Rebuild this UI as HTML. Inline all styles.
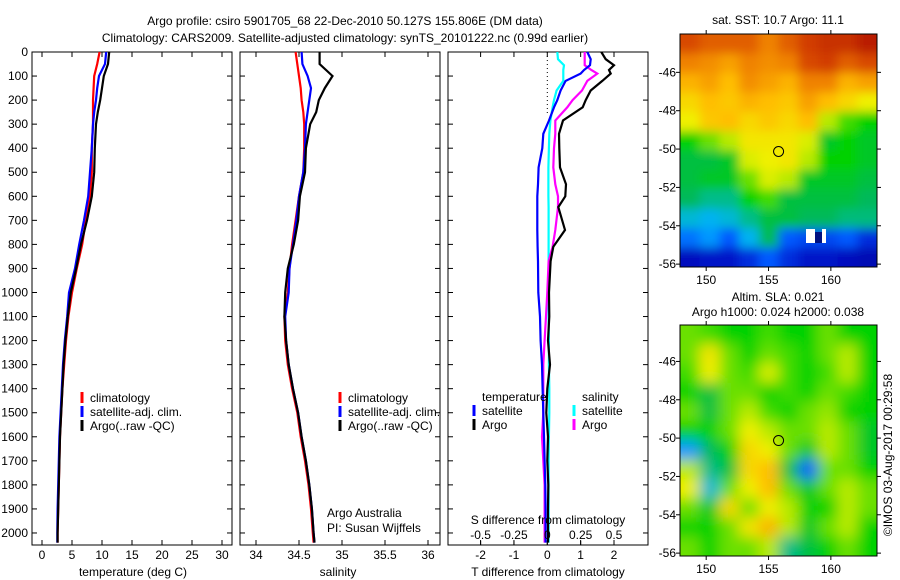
<!DOCTYPE html>
<html><head><meta charset="utf-8"><style>
html,body{margin:0;padding:0;background:#fff}
svg{display:block}
text{font-family:"Liberation Sans",sans-serif;font-size:12px;fill:#000}
</style></head><body>
<svg id="fig" width="900" height="580" viewBox="0 0 900 580" xmlns="http://www.w3.org/2000/svg">
<defs>
<filter id="blur1" x="-10%" y="-10%" width="120%" height="120%"><feGaussianBlur stdDeviation="5"/></filter>
<filter id="blur2" x="-10%" y="-10%" width="120%" height="120%"><feGaussianBlur stdDeviation="7"/></filter>
<clipPath id="clipMap1"><rect x="680" y="34" width="197" height="233"/></clipPath>
<clipPath id="clipMap2"><rect x="680" y="325" width="197" height="231"/></clipPath>
</defs>
<text x="345" y="25" text-anchor="middle">Argo profile: csiro 5901705_68 22-Dec-2010 50.127S 155.806E (DM data)</text>
<text x="345" y="42" text-anchor="middle">Climatology: CARS2009. Satellite-adjusted climatology: synTS_20101222.nc (0.99d earlier)</text>
<g id="g"></g>
</svg>
<script>
// ---------- profile data ----------
const depths = [0,50,100,150,200,250,300,400,500,600,700,800,900,1000,1100,1200,1300,1400,1500,1600,1700,1800,1900,2000,2040];
const tempArgo = [11.2,11.0,10.3,10.0,9.7,9.3,9.0,8.8,8.7,8.3,7.5,6.5,5.7,4.8,4.3,3.9,3.6,3.4,3.2,3.0,2.9,2.8,2.7,2.6,2.6];
const tempClim = [9.6,9.2,8.7,8.6,8.5,8.5,8.5,8.3,8.3,8.0,7.3,6.7,5.8,5.0,4.4,4.0,3.7,3.4,3.2,3.0,2.9,2.8,2.7,2.6,2.6];
const tempSat  = [10.7,10.5,9.5,9.2,9.0,8.7,8.5,8.3,8.0,7.7,7.0,6.2,5.5,4.5,4.2,3.8,3.5,3.3,3.1,2.9,2.8,2.7,2.6,2.55,2.55];
const salArgo = [34.74,34.74,34.89,34.80,34.73,34.70,34.63,34.58,34.57,34.51,34.49,34.44,34.37,34.34,34.33,34.35,34.38,34.43,34.49,34.53,34.58,34.62,34.65,34.67,34.68];
const salClim = [34.46,34.48,34.50,34.52,34.53,34.55,34.56,34.56,34.55,34.50,34.46,34.42,34.39,34.37,34.33,34.34,34.37,34.42,34.48,34.52,34.57,34.61,34.64,34.66,34.67];
const salSat  = [34.53,34.54,34.60,34.64,34.62,34.60,34.58,34.57,34.55,34.50,34.47,34.43,34.39,34.38,34.34,34.35,34.38,34.43,34.49,34.53,34.58,34.62,34.65,34.67,34.68];
const diffDepths = [0,30,55,75,90,120,160,200,230,285,340,400,480,550,600,645,740,810,870,1000,1100,1200,1300,1400,1500,1600,1700,1800,1900,2000,2040];
const dTArgo = [1.62,1.75,2.0,1.85,1.9,1.65,1.3,1.15,1.06,0.47,0.35,0.36,0.38,0.56,0.54,0.33,0.53,0.18,0.1,0.05,0.06,0.02,0.08,0.0,-0.03,0.02,0.0,0.03,0.02,0.02,0.02];
const dTSat  = [1.2,1.3,1.28,1.1,1.0,0.55,0.4,0.3,0.2,0.05,-0.12,-0.15,-0.26,-0.28,-0.3,-0.3,-0.3,-0.29,-0.28,-0.27,-0.22,-0.2,-0.16,-0.14,-0.12,-0.1,-0.08,-0.06,-0.05,-0.05,-0.05];
const dSArgo = [0.28,0.28,0.28,0.33,0.375,0.3,0.26,0.19,0.15,0.06,0.06,0.05,0.045,0.06,0.08,0.08,0.06,0.04,0.01,0.0,-0.01,-0.02,-0.03,-0.03,-0.03,-0.04,-0.03,-0.02,-0.02,-0.02,-0.02];
const dSSat  = [0.075,0.08,0.125,0.12,0.12,0.12,0.07,0.05,0.04,0.023,0.015,0.012,0.008,0.008,0.008,0.01,0.01,0.01,0.01,0.01,0.01,0.012,0.012,0.015,0.015,0.012,0.01,0.01,0.01,0.01,0.01];
const depthTicks = [0,100,200,300,400,500,600,700,800,900,1000,1100,1200,1300,1400,1500,1600,1700,1800,1900,2000];
const tempTicks = [0,5,10,15,20,25,30];
const salTicks = [34,34.5,35,35.5,36];
const salTickLabels = ["34","34.5","35","35.5","36"];
const dTTicks = [-2,-1,0,1,2];
const dSTicks = [-0.5,-0.25,0,0.25,0.5];
const dSTickLabels = ["-0.5","-0.25","0","0.25","0.5"];
// ---------- map data (colormap fraction 0..1), rows north->south ----------
const sstGrid = [
[.88,.85,.85,.85,.80,.85,.90,.92,.92,.95],
[.80,.78,.75,.80,.78,.80,.88,.90,.85,.88],
[.72,.75,.70,.78,.75,.72,.80,.80,.72,.75],
[.65,.70,.68,.72,.70,.68,.75,.70,.65,.60],
[.60,.68,.70,.65,.68,.65,.70,.55,.48,.45],
[.45,.50,.55,.62,.62,.62,.58,.42,.45,.42],
[.40,.40,.42,.58,.60,.62,.55,.45,.45,.42],
[.40,.42,.42,.50,.58,.55,.42,.42,.42,.40],
[.38,.35,.35,.45,.48,.40,.40,.40,.40,.38],
[.30,.28,.30,.35,.40,.40,.38,.38,.36,.36],
[.22,.25,.20,.28,.38,.20,.18,.18,.20,.15],
[.10,.12,.12,.15,.20,.15,.12,.12,.10,.08]];
const slaGrid = [
[.50,.48,.45,.45,.48,.45,.45,.50,.45,.45],
[.50,.62,.50,.45,.50,.48,.45,.50,.55,.45],
[.48,.60,.50,.48,.58,.48,.45,.48,.55,.45],
[.45,.40,.50,.50,.45,.48,.45,.50,.48,.45],
[.50,.40,.50,.55,.48,.45,.50,.52,.45,.45],
[.45,.45,.50,.60,.55,.50,.50,.55,.50,.42],
[.25,.38,.45,.65,.60,.50,.42,.55,.50,.42],
[.55,.35,.40,.65,.70,.40,.20,.50,.50,.45],
[.60,.30,.50,.60,.70,.50,.42,.50,.55,.50],
[.50,.42,.65,.50,.60,.55,.45,.45,.55,.50],
[.45,.45,.50,.62,.72,.55,.42,.50,.55,.45],
[.50,.45,.50,.50,.55,.35,.40,.45,.50,.45]];
const lonTicks = [150,155,160];
const latTicks = [-46,-48,-50,-52,-54,-56];
const argoLon = 155.806, argoLat = -50.127;

const NS='http://www.w3.org/2000/svg';
const G=document.getElementById('g');
function el(tag,attrs,parent){const e=document.createElementNS(NS,tag);for(const k in attrs)e.setAttribute(k,attrs[k]);(parent||G).appendChild(e);return e;}
function txt(x,y,s,anchor,parent){const t=el('text',{x:x,y:y,'text-anchor':anchor||'start'},parent);t.textContent=s;return t;}

const TOP=52, BOT=545;
const yD = d => TOP + d*(BOT-TOP)/2050;
function lin(d0,d1,r0,r1){return v=>r0+(v-d0)*(r1-r0)/(d1-d0);}
const xT = lin(0,30,42,222);
const xS = lin(34,36,256,428);
const xDT = lin(0,2,547.3,614);
const xDS = v => xDT(v*4);

function panel(x0,x1,name){
  const r=el('rect',{x:x0,y:TOP,width:x1-x0,height:BOT-TOP,fill:'#fff',stroke:'#000','stroke-width':1});
  
  
  depthTicks.forEach(d=>{
    el('line',{x1:x0,x2:x0+5,y1:yD(d),y2:yD(d),stroke:'#000'});
    el('line',{x1:x1-5,x2:x1,y1:yD(d),y2:yD(d),stroke:'#000'});
  });
}
function xticks(vals,labels,fx,x0,x1,withTop,labelY,name){
  vals.forEach((v,i)=>{
    const x=fx(v);
    el('line',{x1:x,x2:x,y1:BOT,y2:BOT-5,stroke:'#000'});
    if(withTop) el('line',{x1:x,x2:x,y1:TOP,y2:TOP+5,stroke:'#000'});
    const t=txt(x,labelY,labels[i],'middle');
    
    
  });
}
function profile(xs,ds,fx,color,name,w){
  const pts=xs.map((v,i)=>fx(v).toFixed(1)+','+yD(ds[i]).toFixed(1)).join(' ');
  const p=el('polyline',{points:pts,fill:'none',stroke:color,'stroke-width':w||2.2,'stroke-linejoin':'miter'});
  
  
}
function legend(x,y,color,label,name){
  el('line',{x1:x,x2:x,y1:y-10,y2:y+1,stroke:color,'stroke-width':3});
  const t=txt(x+8,y,label);
  
  
}

// Panel 1 temperature
panel(32,232,'temperature-panel');
depthTicks.forEach(d=>{const t=txt(28,yD(d)+4,String(d),'end');
  
  });
xticks(tempTicks,tempTicks.map(String),xT,32,232,true,559,'temperature-tick-label');
profile(tempClim,depths,xT,'#f00','temperature-climatology-line');
profile(tempSat,depths,xT,'#00f','temperature-satellite-line');
profile(tempArgo,depths,xT,'#000','temperature-argo-line');
legend(82,402,'#f00','climatology','legend-climatology');
legend(82,416,'#00f','satellite-adj. clim.','legend-satellite');
legend(82,430,'#000','Argo(..raw -QC)','legend-argo');
let t=txt(133,576,'temperature (deg C)','middle');



// Panel 2 salinity
panel(240,440,'salinity-panel');
xticks(salTicks,salTickLabels,xS,240,440,true,559,'salinity-tick-label');
profile(salClim,depths,xS,'#f00','salinity-climatology-line');
profile(salSat,depths,xS,'#00f','salinity-satellite-line');
profile(salArgo,depths,xS,'#000','salinity-argo-line');
legend(340,402,'#f00','climatology','legend-climatology-2');
legend(340,416,'#00f','satellite-adj. clim.','legend-satellite-2');
legend(340,430,'#000','Argo(..raw -QC)','legend-argo-2');
t=txt(327,517,'Argo Australia');


t=txt(327,532,'PI: Susan Wijffels');


t=txt(338,576,'salinity','middle');



// Panel 3 differences
panel(448,648,'difference-panel');
el('line',{x1:xDT(0),x2:xDT(0),y1:TOP,y2:116,stroke:'#000','stroke-dasharray':'1,3'});
xticks(dTTicks,dTTicks.map(String),xDT,448,648,true,559,'t-diff-tick-label');
dSTicks.forEach((v,i)=>{const x=xDS(v);
  el('line',{x1:x,x2:x,y1:BOT,y2:BOT-4,stroke:'#000'});});
profile(dSSat,diffDepths,xDS,'#0ff','salinity-diff-satellite-line');
profile(dSArgo,diffDepths,xDS,'#f0f','salinity-diff-argo-line');
profile(dTSat,diffDepths,xDT,'#00f','temperature-diff-satellite-line');
profile(dTArgo,diffDepths,xDT,'#000','temperature-diff-argo-line');
dSTicks.forEach((v,i)=>{const tt=txt(xDS(v),539,dSTickLabels[i],'middle');
  
  });
t=txt(548,524,'S difference from climatology','middle');


t=txt(482,401,'temperature');


t=txt(582,401,'salinity');


legend(474,415,'#00f','satellite','legend-t-satellite');
legend(474,429,'#000','Argo','legend-t-argo');
legend(574,415,'#0ff','satellite','legend-s-satellite');
legend(574,429,'#f0f','Argo','legend-s-argo');
t=txt(548,576,'T difference from climatology','middle');



// ---------- maps ----------
const cmapStops=[[0,0,0,140],[0.12,0,20,200],[0.2,0,90,255],[0.27,0,175,255],[0.33,0,190,170],[0.38,0,185,90],[0.45,0,210,0],[0.52,150,230,0],[0.6,240,240,0],[0.7,255,190,0],[0.8,240,130,0],[0.9,210,60,0],[1,160,0,0]];
function cmap(v){v=Math.max(0,Math.min(1,v));
  for(let i=1;i<cmapStops.length;i++){const a=cmapStops[i-1],b=cmapStops[i];
    if(v<=b[0]){const f=(v-a[0])/(b[0]-a[0]);
      return 'rgb('+[1,2,3].map(k=>Math.round(a[k]+f*(b[k]-a[k]))).join(',')+')';}}
  return 'rgb(160,0,0)';}
function drawMap(grid,x0,y0,w,h,latTop,latBot,clip,filt,name){
  const lonL=147.9, lonR=163.7;
  const fx=lin(lonL,lonR,x0,x0+w), fy=lin(latTop,latBot,y0,y0+h);
  const cg=el('g',{'clip-path':'url(#'+clip+')'});
  
  
  const bg=el('g',{filter:'url(#'+filt+')'},cg);
  const rows=grid.length, cols=grid[0].length;
  const cw=w/cols, ch=h/rows;
  for(let r=-1;r<=rows;r++)for(let c=-1;c<=cols;c++){
    const rr=Math.max(0,Math.min(rows-1,r)), cc=Math.max(0,Math.min(cols-1,c));
    const cell=el('rect',{x:x0+c*cw,y:y0+r*ch,width:cw+0.5,height:ch+0.5,fill:cmap(grid[rr][cc])},bg);
    
    
  }
  const fr=el('rect',{x:x0,y:y0,width:w,height:h,fill:'none',stroke:'#000'});
  
  
  lonTicks.forEach(l=>{const x=fx(l);
    el('line',{x1:x,x2:x,y1:y0+h,y2:y0+h+4,stroke:'#000'});
    el('line',{x1:x,x2:x,y1:y0,y2:y0-4,stroke:'#000'});
    const tt=txt(x,y0+h+17,String(l),'middle');
    
    });
  latTicks.forEach(l=>{const y=fy(l);
    el('line',{x1:x0,x2:x0-4,y1:y,y2:y,stroke:'#000'});
    el('line',{x1:x0+w,x2:x0+w+4,y1:y,y2:y,stroke:'#000'});
    const tt=txt(x0-4,y+4,String(l),'end');
    
    });
  const m=el('circle',{cx:fx(argoLon),cy:fy(argoLat),r:5,fill:'none',stroke:'#000','stroke-width':1});
  
  
  return {fx,fy};
}
drawMap(sstGrid,680,34,197,233,-44.0,-56.15,'clipMap1','blur1','sst-map');
el('rect',{x:806,y:229,width:9,height:14,fill:'#fff'});
el('rect',{x:822,y:229,width:4,height:14,fill:'#fff'});
el('rect',{x:815,y:232,width:7,height:11,fill:'#001080'});
drawMap(slaGrid,680,325,197,231,-44.1,-56.15,'clipMap2','blur2','sla-map');
t=txt(778,24,'sat. SST: 10.7 Argo: 11.1','middle');


t=txt(778,301,'Altim. SLA: 0.021','middle');


t=txt(778,316,'Argo h1000: 0.024 h2000: 0.038','middle');


t=txt(0,0,'©IMOS 03-Aug-2017 00:29:58','middle');
t.setAttribute('transform','translate(892,455) rotate(-90)');


</script>
</body></html>
